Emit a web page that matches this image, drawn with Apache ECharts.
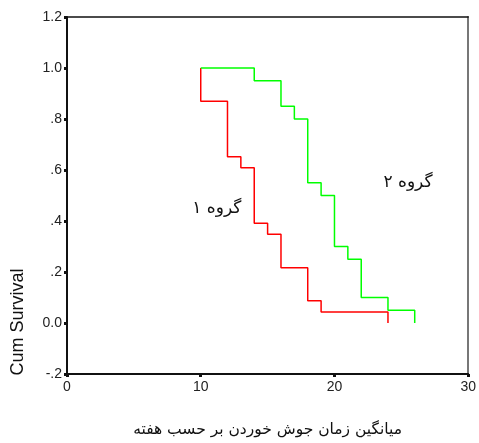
<!DOCTYPE html>
<html>
<head>
<meta charset="utf-8">
<script src="https://cdn.jsdelivr.net/npm/echarts@6/dist/echarts.min.js"></script>
<style>
html,body{margin:0;padding:0;background:#fff;overflow:hidden;}
#c{width:479px;height:443px;}
</style>
</head>
<body>
<div id="c"></div>
<script>
// Group 1 (red) Kaplan-Meier steps
var group1Times = [10, 10, 12, 13, 14, 15, 16, 18, 19, 24];
var group1Surv  = [1.0, 0.870, 0.652, 0.609, 0.391, 0.348, 0.217, 0.087, 0.043, 0.0];
// Group 2 (green)
var group2Times = [10, 14, 16, 17, 18, 19, 20, 21, 22, 24, 26];
var group2Surv  = [1.0, 0.95, 0.85, 0.80, 0.55, 0.50, 0.30, 0.25, 0.10, 0.05, 0.0];
var seriesNames = ['گروه ۱', 'گروه ۲'];
var labelPos1 = [11.2, 0.45];
var labelPos2 = [25.5, 0.55];
var xTicks = [0, 10, 20, 30];
var yTickValues = [-0.2, 0, 0.2, 0.4, 0.6, 0.8, 1.0, 1.2];
var yTickLabels = ['-.2', '0.0', '.2', '.4', '.6', '.8', '1.0', '1.2'];
var xTitle = 'میانگین زمان جوش خوردن بر حسب هفته';
var yTitle = 'Cum Survival';

function zip(a, b) { return a.map(function (v, i) { return [v, b[i]]; }); }

var chart = echarts.init(document.getElementById('c'));
var faText = 'DejaVu Sans, Arial, sans-serif';
chart.setOption({
  animation: false,
  backgroundColor: '#ffffff',
  grid: { left: 67, top: 17, right: 8, bottom: 66, containLabel: false },
  xAxis: [{
    type: 'value', min: 0, max: 30, interval: 10,
    axisLine: { show: true, onZero: false, lineStyle: { color: '#111', width: 2 } },
    axisTick: { show: true, length: 3, lineStyle: { color: '#111', width: 3 } },
    axisLabel: { color: '#222', fontSize: 14, fontFamily: 'Liberation Sans, Arial', margin: 6,
      formatter: function (v) { return xTicks.indexOf(v) >= 0 ? String(v) : ''; } },
    splitLine: { show: false },
    name: xTitle, nameLocation: 'middle', nameGap: 48,
    nameTextStyle: { fontSize: 15.5, fontFamily: faText, color: '#111' }
  }, {
    type: 'value', min: 0, max: 30, position: 'top',
    axisLine: { show: true, onZero: false, lineStyle: { color: '#111', width: 1.5 } },
    axisTick: { show: false }, axisLabel: { show: false }, splitLine: { show: false }
  }],
  yAxis: [{
    type: 'value', min: -0.2, max: 1.2, interval: 0.2,
    axisLine: { show: true, onZero: false, lineStyle: { color: '#111', width: 2 } },
    axisTick: { show: true, length: 3, lineStyle: { color: '#111', width: 3 } },
    axisLabel: { color: '#222', fontSize: 14, fontFamily: 'Liberation Sans, Arial', margin: 5,
      formatter: function (v) {
        var r = Math.round(v * 10) / 10;
        for (var i = 0; i < yTickValues.length; i++) {
          if (Math.abs(yTickValues[i] - r) < 1e-6) return yTickLabels[i];
        }
        return '';
      } },
    splitLine: { show: false }
  }, {
    type: 'value', min: -0.2, max: 1.2, position: 'right',
    axisLine: { show: true, onZero: false, lineStyle: { color: '#777', width: 2 } },
    axisTick: { show: false }, axisLabel: { show: false }, splitLine: { show: false }
  }],
  series: [{
    name: seriesNames[0], type: 'line', step: 'end', showSymbol: false, symbol: 'none',
    data: zip(group1Times, group1Surv),
    lineStyle: { color: '#ff0000', width: 1.5 },
    markPoint: {
      symbol: 'circle', symbolSize: 0,
      data: [{ coord: labelPos1, label: { show: true, formatter: seriesNames[0], color: '#111',
        fontSize: 17, fontFamily: faText, position: 'inside' } }]
    }
  }, {
    name: seriesNames[1], type: 'line', step: 'end', showSymbol: false, symbol: 'none',
    data: zip(group2Times, group2Surv),
    lineStyle: { color: '#00ff00', width: 1.5 },
    markPoint: {
      symbol: 'circle', symbolSize: 0,
      data: [{ coord: labelPos2, label: { show: true, formatter: seriesNames[1], color: '#111',
        fontSize: 17, fontFamily: faText, position: 'inside' } }]
    }
  }],
  graphic: [{
    type: 'text', x: 18, y: 322, rotation: Math.PI / 2,
    style: { text: yTitle, fontSize: 18, fontFamily: 'Liberation Sans, Arial', fill: '#111',
      textAlign: 'center', textVerticalAlign: 'middle' }
  }]
});
</script>
</body>
</html>
